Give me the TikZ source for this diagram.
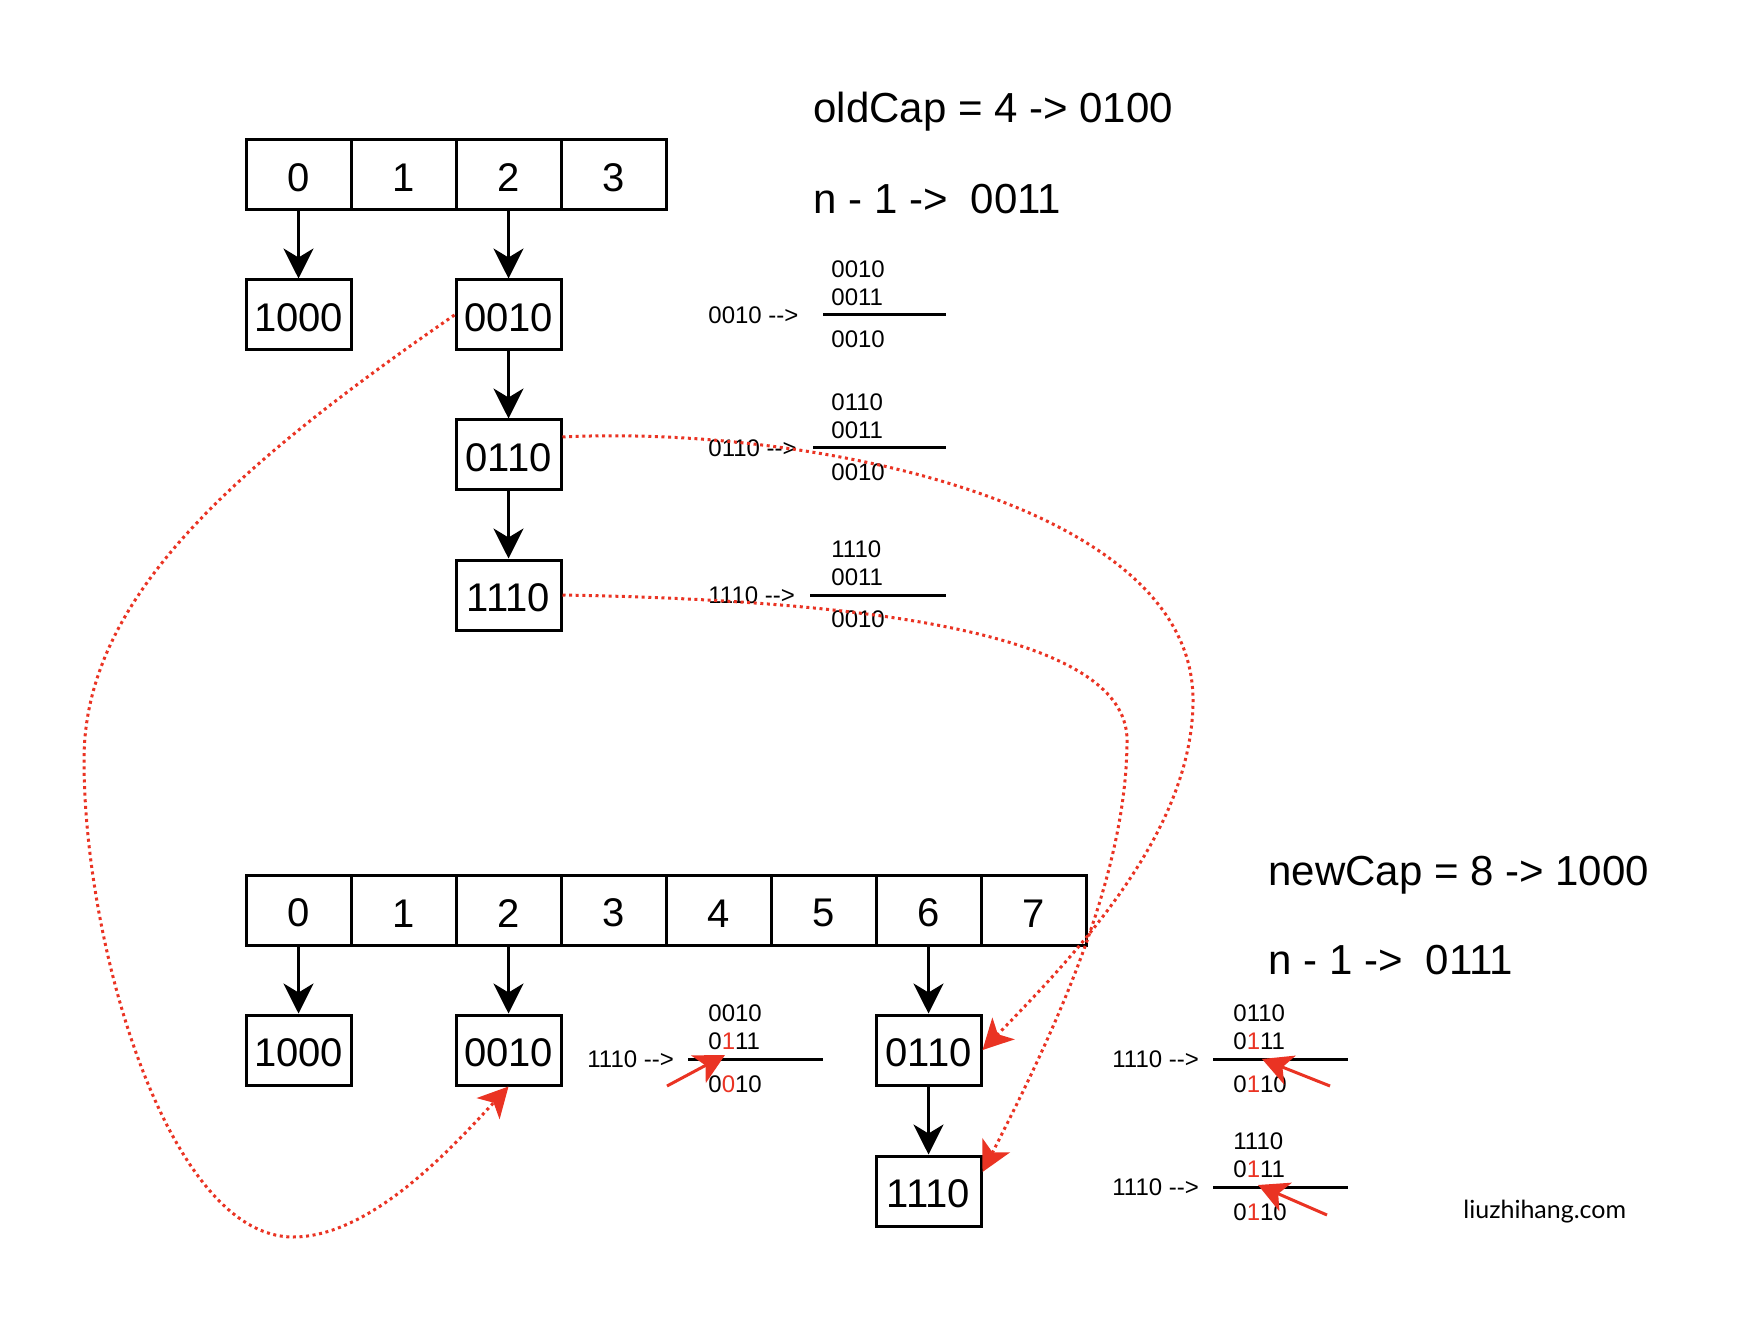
\documentclass[tikz,border=0pt]{standalone}
\usepackage{fontspec}
\setmainfont{Liberation Sans}
\newfontfamily\markfont{Lato}
\usetikzlibrary{arrows.meta,positioning}
\definecolor{linkred}{RGB}{234,51,35}
\newcommand{\arrtxt}{-{}->}
\newcommand{\rd}[1]{\textcolor{linkred}{#1}}

\begin{document}
\begin{tikzpicture}[x=0.5pt,y=-0.5pt]
	\tikzstyle{Cell}  = [draw, line width=1.5pt, minimum width=52.5pt, minimum height=35pt, inner sep=0pt, text height=17pt, font=\fontsize{20}{24}\selectfont]
	\tikzstyle{Entry} = [Cell]
	\tikzstyle{Head}  = [anchor=west, inner sep=0pt, font=\fontsize{21}{25}\selectfont]
	\tikzstyle{Bits}  = [anchor=west, inner sep=0pt, font=\fontsize{12}{14}\selectfont]
	\tikzstyle{Rule}  = [line width=1.5pt]
	\tikzstyle{Next}  = [-{Stealth[length=15pt,width=15pt,inset=4.5pt]}, line width=1.5pt]
	\tikzstyle{Move}  = [-{Stealth[length=15pt,width=15.5pt,inset=4pt]}, linkred, line width=1.5pt, dash pattern=on 1.5pt off 1.8pt]
	\tikzstyle{Mark}  = [-{Stealth[length=15pt,width=15.5pt,inset=4pt]}, linkred, line width=1.5pt]

	\path[fill=white] (0,0) rectangle (1760,1320);
	\useasboundingbox (0,0) rectangle (1760,1320);

	% old table, cap 4
	\foreach \i in {0,...,3}
		\node (o\i) at ({298.5+105*\i},175) [Cell] {\i};
	\node (oa) at (298.5,315) [Entry] {1000};
	\node (ob) at (508.5,315) [Entry] {0010};
	\node (oc) at (508.5,455) [Entry] {0110};
	\node (od) at (508.5,595) [Entry] {1110};
	\draw[Next] (o0) -- (oa);
	\draw[Next] (o2) -- (ob);
	\draw[Next] (ob) -- (oc);
	\draw[Next] (oc) -- (od);

	\node (oldcap) at (813,112) [Head] {oldCap = 4 -> 0100};
	\node (oldmask) at (813,199) [Head] {n - 1 ->\ \ 0011};

	% hash & (n-1), old
	\foreach \n/\y/\x/\v in {1/315/823/0010, 2/448/813/0110, 3/595/810/1110} {
		\node (k\n) at (708,\y) [Bits] {\v\ \arrtxt};
		\node (ka\n) at (831,\y-46) [Bits] {\v};
		\node (kb\n) at (831,\y-18) [Bits] {0011};
		\node (kc\n) at (831,\y+24) [Bits] {0010};
		\draw[Rule] (\x,\y) -- (946,\y);
	}

	% new table, cap 8
	\foreach \i in {0,...,7}
		\node (n\i) at ({298.5+105*\i},910) [Cell] {\i};
	\node (na) at (298.5,1050) [Entry] {1000};
	\node (nb) at (508.5,1050) [Entry] {0010};
	\node (nc) at (928.5,1050) [Entry] {0110};
	\node (nd) at (928.5,1191) [Entry] {1110};
	\draw[Next] (n0) -- (na);
	\draw[Next] (n2) -- (nb);
	\draw[Next] (n6) -- (nc);
	\draw[Next] (nc) -- (nd);

	\node (newcap) at (1268,875) [Head] {newCap = 8 -> 1000};
	\node (newmask) at (1268,960) [Head] {n - 1 ->\ \ 0111};

	% hash & (n-1), new
	\foreach \n/\x/\y/\v/\r/\sx/\sy/\ex/\ey in {1/708/1059/0010/0\rd{0}10/-41/27/17/-4, 2/1233/1059/0110/0\rd{1}10/97/27/29/0, 3/1233/1187/1110/0\rd{1}10/94/28/25/-2} {
		\node (j\n) at (\x-121,\y) [Bits] {1110 \arrtxt};
		\node (ja\n) at (\x,\y-46) [Bits] {\v};
		\node (jb\n) at (\x,\y-18) [Bits] {0\rd{1}11};
		\node (jc\n) at (\x,\y+25) [Bits] {\r};
		\draw[Rule] (\x-20,\y) -- (\x+115,\y);
		\coordinate (ms\n) at (\x+\sx,\y+\sy);
		\coordinate (me\n) at (\x+\ex,\y+\ey);
		\draw[Mark] (ms\n) -- (me\n);
	}

	% where the entries go
	\draw[Move] (ob.west) .. controls (230,470) and (84,600) .. (84,760)
		.. controls (84,950) and (170,1237) .. (293,1237)
		.. controls (370,1237) and (450,1150) .. (nb.south);
	\draw[Move] ([yshift=9pt]oc.east) .. controls (800,425) and (1193,500) .. (1193,700)
		.. controls (1193,830) and (1080,950) .. (nc.east);
	\draw[Move] (od.east) .. controls (850,600) and (1127,630) .. (1127,740)
		.. controls (1127,880) and (1050,1040) .. ([yshift=9.5pt]nd.east);

	\node (site) at (1463,1212) [anchor=west, inner sep=0pt, font=\markfont\fontsize{12.5}{15}\selectfont] {liuzhihang.com};
\end{tikzpicture}
\end{document}
